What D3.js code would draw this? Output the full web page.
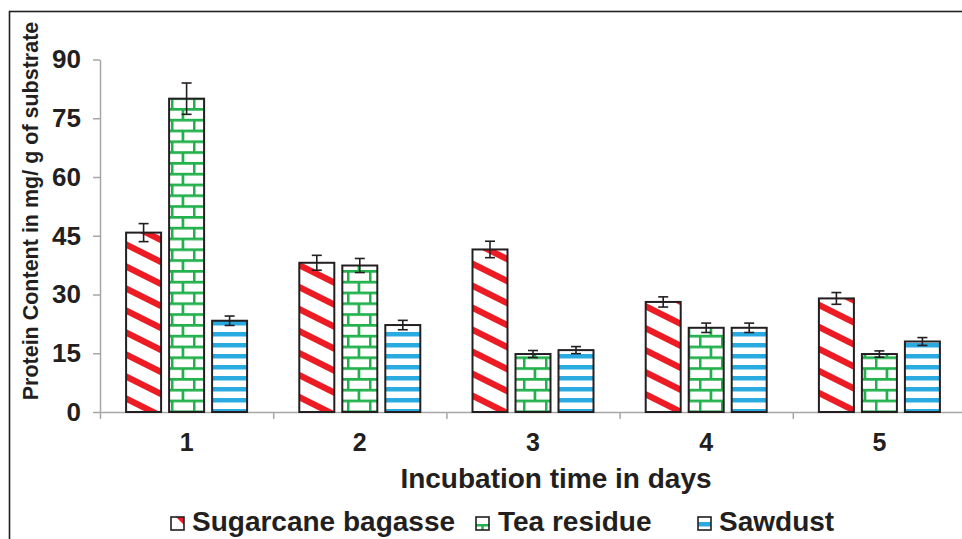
<!DOCTYPE html>
<html>
<head>
<meta charset="utf-8">
<script src="https://cdn.jsdelivr.net/npm/d3@7/dist/d3.min.js"></script>
<style>
  html, body { margin: 0; padding: 0; background: #fff; }
  svg { display: block; font-family: "Liberation Sans", Arial, sans-serif; }
</style>
</head>
<body>
<div id="chartWrap"></div>
<script>
// data
const days = ['1', '2', '3', '4', '5'];
const seriesNames = ['Sugarcane bagasse', 'Tea residue', 'Sawdust'];
const sugarcane = [45.8, 38.1, 41.5, 28.1, 29.0];
const sugarcaneErr = [2.3, 1.9, 2.1, 1.3, 1.5];
const teaResidue = [80.0, 37.4, 14.8, 21.5, 14.8];
const teaErr = [4.0, 1.8, 0.9, 1.2, 0.8];
const sawdust = [23.3, 22.2, 15.8, 21.5, 18.0];
const sawdustErr = [1.2, 1.2, 0.9, 1.2, 1.0];
const yTicks = [0, 15, 30, 45, 60, 75, 90];

const W = 962, H = 539;
const ink = '#231f20';
const axisGrey = '#a6a6a6';

const svg = d3.select('#chartWrap')
  .append('svg')
  .attr('width', W)
  .attr('height', H);

// patterns
const defs = svg.append('defs');

// red diagonal stripes, falling to the right (slope 0.5)
const pRed = defs.append('pattern')
  .attr('id', 'pat-sugar')
  .attr('patternUnits', 'userSpaceOnUse')
  .attr('x', 0).attr('y', 2)
  .attr('width', 44).attr('height', 22);
pRed.append('rect').attr('width', 44).attr('height', 22).attr('fill', '#fff');
pRed.append('path')
  .attr('d', 'M0,0 L44,22 L44,29 L0,7 Z M0,-22 L44,0 L44,7 L0,-15 Z')
  .attr('fill', '#ed1c24');

// green bricks
const pGreen = defs.append('pattern')
  .attr('id', 'pat-tea')
  .attr('patternUnits', 'userSpaceOnUse')
  .attr('x', 171).attr('y', 0)
  .attr('width', 22).attr('height', 21.6);
pGreen.append('rect').attr('width', 22).attr('height', 21.6).attr('fill', '#fff');
pGreen.append('rect').attr('y', 0).attr('width', 22).attr('height', 2.7).attr('fill', '#22b14c');
pGreen.append('rect').attr('y', 10.8).attr('width', 22).attr('height', 2.7).attr('fill', '#22b14c');
pGreen.append('rect').attr('x', 10.6).attr('y', 0).attr('width', 2.7).attr('height', 10.8).attr('fill', '#22b14c');
pGreen.append('rect').attr('x', -0.2).attr('y', 10.8).attr('width', 2.7).attr('height', 10.8).attr('fill', '#22b14c');

// blue horizontal stripes
const pBlue = defs.append('pattern')
  .attr('id', 'pat-saw')
  .attr('patternUnits', 'userSpaceOnUse')
  .attr('width', 10).attr('height', 11);
pBlue.append('rect').attr('width', 10).attr('height', 11).attr('fill', '#fff');
pBlue.append('rect').attr('y', 2).attr('width', 10).attr('height', 4.5).attr('fill', '#29abe2');

const fills = ['url(#pat-sugar)', 'url(#pat-tea)', 'url(#pat-saw)'];

// outer frame
svg.append('rect')
  .attr('x', 9.5).attr('y', 11.5)
  .attr('width', W + 20).attr('height', H + 20)
  .attr('fill', 'none')
  .attr('stroke', ink)
  .attr('stroke-width', 1.6);

const margin = { left: 100, top: 59.5, bottom: 412, right: 966 };

const x = d3.scaleBand()
  .domain(days)
  .range([margin.left, margin.right])
  .padding(0);

const groupW = 121;
const xs = d3.scaleBand()
  .domain(seriesNames)
  .range([0, groupW])
  .paddingInner(8 / 43);

const y = d3.scaleLinear()
  .domain([0, 90])
  .range([margin.bottom, margin.top]);

const rows = [];
days.forEach((d, i) => {
  rows.push({ day: d, s: seriesNames[0], v: sugarcane[i], e: sugarcaneErr[i], k: 0 });
  rows.push({ day: d, s: seriesNames[1], v: teaResidue[i], e: teaErr[i], k: 1 });
  rows.push({ day: d, s: seriesNames[2], v: sawdust[i], e: sawdustErr[i], k: 2 });
});
const barX = (d) => x(d.day) + (x.bandwidth() - groupW) / 2 + xs(d.s);

// y axis
const yAxis = svg.append('g')
  .attr('transform', `translate(${margin.left},0)`)
  .call(d3.axisLeft(y).tickValues(yTicks).tickSize(7).tickPadding(12).tickSizeOuter(0));
yAxis.select('.domain').attr('stroke', axisGrey).attr('stroke-width', 1.5);
yAxis.selectAll('.tick line').attr('stroke', axisGrey).attr('stroke-width', 1.5);
yAxis.selectAll('.tick text')
  .attr('fill', ink)
  .style('font-size', '26px')
  .style('font-weight', 'bold')
  .style('font-family', '"Liberation Sans", Arial, sans-serif');

// x axis: boundary ticks
const xb = d3.scaleLinear().domain([0.5, 5.5]).range([margin.left, margin.right]);
const xAxisB = svg.append('g')
  .attr('transform', `translate(0,${margin.bottom})`)
  .call(d3.axisBottom(xb).tickValues([0.5, 1.5, 2.5, 3.5, 4.5, 5.5]).tickSize(7).tickSizeOuter(0).tickFormat(''));
xAxisB.select('.domain').attr('stroke', axisGrey).attr('stroke-width', 1.5);
xAxisB.selectAll('.tick line').attr('stroke', axisGrey).attr('stroke-width', 1.5);

// x axis: category labels
const xAxisL = svg.append('g')
  .attr('transform', `translate(0,${margin.bottom})`)
  .call(d3.axisBottom(x).tickSize(0).tickPadding(21));
xAxisL.select('.domain').remove();
xAxisL.selectAll('.tick text')
  .attr('fill', ink)
  .style('font-size', '25px')
  .style('font-weight', 'bold')
  .style('font-family', '"Liberation Sans", Arial, sans-serif');

// bars
svg.append('g')
  .selectAll('rect')
  .data(rows)
  .enter()
  .append('rect')
  .attr('x', barX)
  .attr('y', (d) => y(d.v))
  .attr('width', xs.bandwidth())
  .attr('height', (d) => y(0) - y(d.v))
  .attr('fill', (d) => fills[d.k])
  .attr('stroke', ink)
  .attr('stroke-width', 2);

// error bars
const err = svg.append('g')
  .attr('stroke', ink)
  .attr('stroke-width', 1.6)
  .selectAll('g')
  .data(rows)
  .enter()
  .append('g')
  .attr('transform', (d) => `translate(${barX(d) + xs.bandwidth() / 2},0)`);
err.append('line')
  .attr('y1', (d) => y(d.v + d.e))
  .attr('y2', (d) => y(d.v - d.e));
err.append('line')
  .attr('x1', -5).attr('x2', 5)
  .attr('y1', (d) => y(d.v + d.e))
  .attr('y2', (d) => y(d.v + d.e));
err.append('line')
  .attr('x1', -5).attr('x2', 5)
  .attr('y1', (d) => y(d.v - d.e))
  .attr('y2', (d) => y(d.v - d.e));

// axis titles
svg.append('text')
  .attr('transform', `translate(38,${(25 + 397) / 2}) rotate(-90)`)
  .attr('text-anchor', 'middle')
  .attr('fill', ink)
  .style('font-size', '21.5px')
  .style('font-weight', 'bold')
  .text('Protein Content in mg/ g of substrate');

svg.append('text')
  .attr('x', 556)
  .attr('y', 488)
  .attr('text-anchor', 'middle')
  .attr('fill', ink)
  .style('font-size', '28px')
  .style('font-weight', 'bold')
  .text('Incubation time in days');

// legend
const legendX = [171, 476, 698];
const legend = svg.append('g')
  .selectAll('g')
  .data(seriesNames)
  .enter()
  .append('g')
  .attr('transform', (d, i) => `translate(${legendX[i]},517)`);

legend.append('rect')
  .attr('width', 13).attr('height', 13)
  .attr('fill', '#fff');
// little swatch hints of each pattern
legend.filter((d, i) => i === 0).append('path')
  .attr('d', 'M5,0 L13,0 L13,8 Z')
  .attr('fill', '#ed1c24');
legend.filter((d, i) => i === 1).append('rect')
  .attr('x', 0).attr('y', 7).attr('width', 13).attr('height', 2.5).attr('fill', '#22b14c');
legend.filter((d, i) => i === 1).append('rect')
  .attr('x', 5.3).attr('y', 7).attr('width', 2.5).attr('height', 6).attr('fill', '#22b14c');
legend.filter((d, i) => i === 2).append('rect')
  .attr('x', 0).attr('y', 5).attr('width', 13).attr('height', 4.5).attr('fill', '#29abe2');
legend.append('rect')
  .attr('width', 13).attr('height', 13)
  .attr('fill', 'none')
  .attr('stroke', ink)
  .attr('stroke-width', 1.6);

legend.append('text')
  .attr('x', (d, i) => (i === 1 ? 22 : 21))
  .attr('y', 14)
  .attr('fill', ink)
  .style('font-size', '28px')
  .style('font-weight', 'bold')
  .text((d) => d);
</script>
</body>
</html>
